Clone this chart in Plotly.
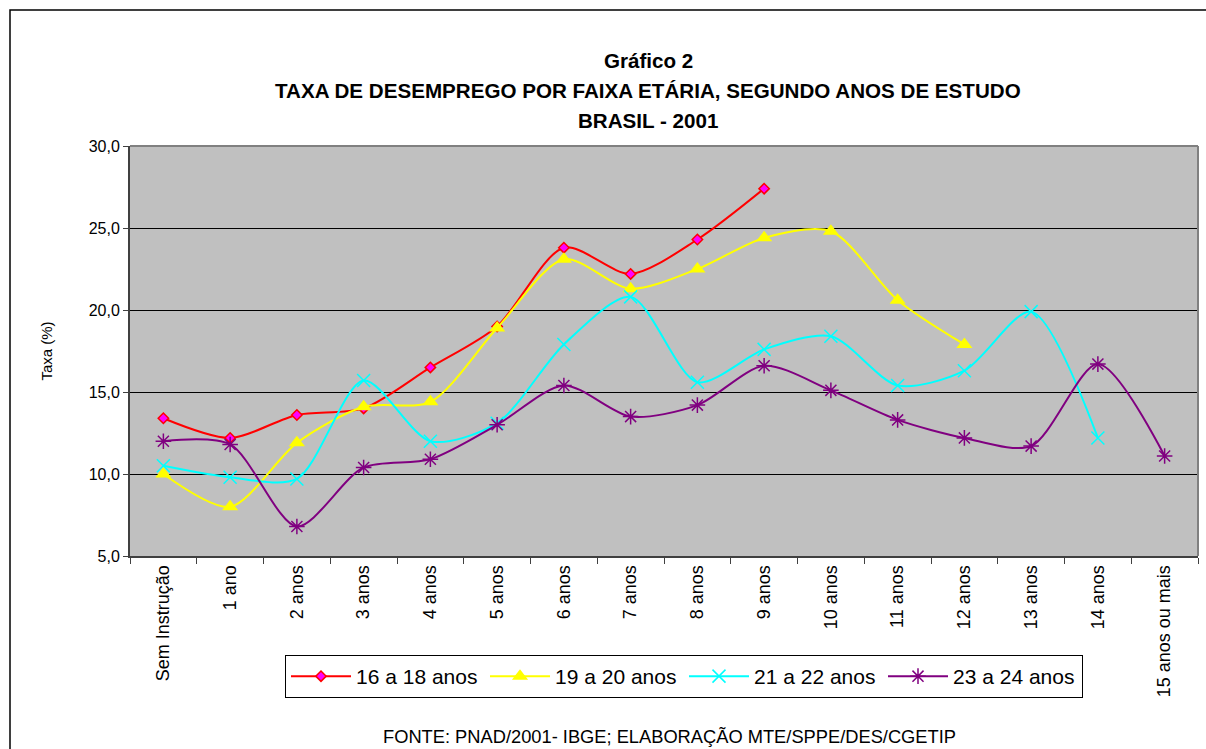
import plotly.graph_objects as go

categories = ["Sem Instrução", "1 ano", "2 anos", "3 anos", "4 anos", "5 anos", "6 anos",
              "7 anos", "8 anos", "9 anos", "10 anos", "11 anos", "12 anos", "13 anos",
              "14 anos", "15 anos ou mais"]

s16_18 = [13.4, 12.2, 13.6, 14.0, 16.5, 19.0, 23.8, 22.2, 24.3, 27.4]
s19_20 = [10.0, 8.0, 11.9, 14.1, 14.4, 18.9, 23.1, 21.3, 22.5, 24.4, 24.8, 20.6, 17.9]
s21_22 = [10.5, 9.8, 9.7, 15.7, 12.0, 13.1, 17.9, 20.8, 15.6, 17.6, 18.4, 15.4, 16.3, 19.9, 12.2]
s23_24 = [12.0, 11.8, 6.8, 10.4, 10.9, 13.0, 15.4, 13.5, 14.2, 16.6, 15.1, 13.3, 12.2, 11.7, 16.7, 11.1]

series_names = ["16 a 18 anos", "19 a 20 anos", "21 a 22 anos", "23 a 24 anos"]
y_ticks = [5, 10, 15, 20, 25, 30]

W, H = 1206, 749
L, R, T, B = 130, 1198, 146, 556

def px(x):
    return (x - L) / (R - L)

def py(y):
    return (B - y) / (B - T)

fig = go.Figure()

fig.add_trace(go.Scatter(
    x=categories[:len(s16_18)], y=s16_18, name=series_names[0], mode="lines+markers",
    line=dict(color="#FF0000", width=2, shape="spline", smoothing=0.8),
    marker=dict(symbol="diamond", size=8, color="#FF00FF", line=dict(color="#FF0000", width=1.5))))
fig.add_trace(go.Scatter(
    x=categories[:len(s19_20)], y=s19_20, name=series_names[1], mode="lines+markers",
    line=dict(color="#FFFF00", width=2, shape="spline", smoothing=0.8),
    marker=dict(symbol="triangle-up", size=14, color="#FFFF00", line=dict(width=0))))
fig.add_trace(go.Scatter(
    x=categories[:len(s21_22)], y=s21_22, name=series_names[2], mode="lines+markers",
    line=dict(color="#00FFFF", width=2, shape="spline", smoothing=0.8),
    marker=dict(symbol="x-thin", size=13, color="#00FFFF", line=dict(color="#00FFFF", width=1.5))))
fig.add_trace(go.Scatter(
    x=categories[:len(s23_24)], y=s23_24, name=series_names[3], mode="lines+markers",
    line=dict(color="#800080", width=2, shape="spline", smoothing=0.8),
    marker=dict(symbol="asterisk-open", size=13, color="#800080", line=dict(color="#800080", width=1.5))))

font = "Liberation Sans, Arial, sans-serif"

fig.update_layout(
    width=W, height=H,
    margin=dict(l=L, r=W - R, t=T, b=H - B, autoexpand=False),
    paper_bgcolor="white", plot_bgcolor="#C0C0C0",
    separators=",.",
    font=dict(family=font, color="black"),
    showlegend=True,
    legend=dict(orientation="h", x=px(285), y=py(655), xanchor="left", yanchor="top",
                bgcolor="white", bordercolor="black", borderwidth=1,
                font=dict(size=21, family=font), entrywidth=124, itemwidth=60,
                traceorder="normal"),
    xaxis=dict(type="category", categoryorder="array", categoryarray=categories,
               range=[-0.5, 15.5], tickangle=-90, tickfont=dict(size=18, family=font),
               ticks="outside", ticklen=6, tickcolor="#404040", tickson="boundaries",
               showline=True, linecolor="#404040", linewidth=2, showgrid=False, zeroline=False),
    yaxis=dict(range=[5, 30], tickvals=y_ticks, tickformat=".1f", tickfont=dict(size=16, family=font),
               ticks="outside", ticklen=5, tickcolor="#404040",
               showline=True, linecolor="#404040", linewidth=2,
               showgrid=True, gridcolor="black", gridwidth=1, zeroline=False,
               title=dict(text="Taxa (%)", font=dict(size=15, family=font), standoff=32)),
)

# plot area top/right border (gray)
fig.add_shape(type="line", xref="paper", yref="paper", x0=0, x1=1, y0=1, y1=1,
              line=dict(color="#808080", width=2))
fig.add_shape(type="line", xref="paper", yref="paper", x0=1, x1=1, y0=0, y1=1,
              line=dict(color="#808080", width=2))
# outer chart border
fig.add_shape(type="rect", xref="paper", yref="paper", x0=px(10), x1=px(1215), y0=py(760), y1=py(10),
              line=dict(color="black", width=1.5), fillcolor="rgba(0,0,0,0)", layer="below")

titles = [("Gráfico 2", 60), ("TAXA DE DESEMPREGO POR FAIXA ETÁRIA, SEGUNDO ANOS DE ESTUDO", 90),
          ("BRASIL - 2001", 121)]
for txt, yy in titles:
    fig.add_annotation(text="<b>%s</b>" % txt, xref="paper", yref="paper", x=px(648), y=py(yy),
                       xanchor="center", yanchor="middle", showarrow=False,
                       font=dict(size=20.6, family=font, color="black"))

fig.add_annotation(text="FONTE: PNAD/2001- IBGE; ELABORAÇÃO MTE/SPPE/DES/CGETIP", xref="paper", yref="paper",
                   x=px(669), y=py(736), xanchor="center", yanchor="middle", showarrow=False,
                   font=dict(size=18.3, family=font, color="black"))

fig.write_html("out.html", config={"displayModeBar": False},
               post_script="document.body.style.margin='0px';document.body.style.overflow='hidden';")
